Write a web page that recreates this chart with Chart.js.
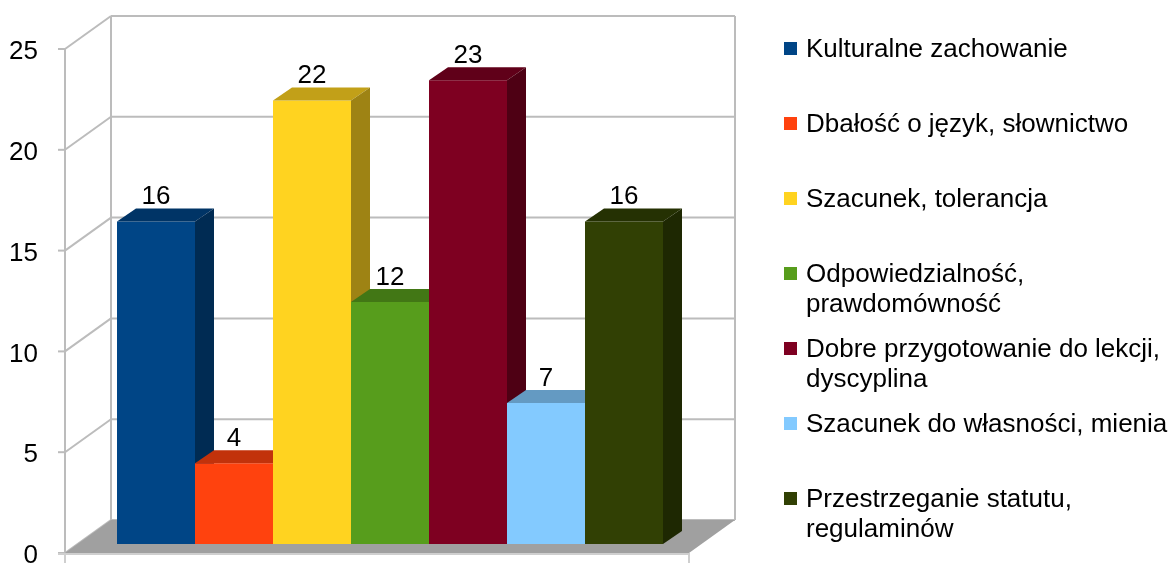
<!DOCTYPE html>
<html>
<head>
<meta charset="utf-8">
<script src="https://cdn.jsdelivr.net/npm/chart.js@4"></script>
<style>
  html, body { margin: 0; padding: 0; background: #fff; }
  #wrap { position: relative; width: 1175px; height: 563px; overflow: hidden; }
  #c { position: absolute; left: 0; top: 0; }
  .lg-item { position: absolute; left: 784px; width: 391px; font-family: 'Liberation Sans', Arial, sans-serif; font-size: 26px; line-height: 30px; color: #000; }
  .lg-box { position: absolute; left: 0; width: 13px; height: 13px; }
  .lg-text { position: absolute; left: 22px; top: 0; width: 369px; white-space: normal; }
</style>
</head>
<body>
<div id="wrap">
  <canvas id="c" width="1175" height="563"></canvas>
  <div id="legend"></div>
</div>
<script>
// ---- data ----
const categories = [
  'Kulturalne zachowanie',
  'Dbałość o język, słownictwo',
  'Szacunek, tolerancja',
  'Odpowiedzialność, prawdomówność',
  'Dobre przygotowanie do lekcji, dyscyplina',
  'Szacunek do własności, mienia',
  'Przestrzeganie statutu, regulaminów'
];
const values = [16, 4, 22, 12, 23, 7, 16];
const colors = ['#004586', '#ff420e', '#ffd320', '#579d1c', '#7e0021', '#83caff', '#314004'];
const yTicks = [0, 5, 10, 15, 20, 25];

// ---- layout (3D projection offsets, in px) ----
const BACK = { dx: 33, dy: -24 };
const FRONT = { dx: -13, dy: 9 };
const BAR = { dx: 19, dy: -13 };
const GRID = '#bcbcbc';
const FONT = "'Liberation Sans', Arial, sans-serif";

function shade(hex, f) {
  const n = parseInt(hex.slice(1), 16);
  const r = Math.round(((n >> 16) & 255) * f), g = Math.round(((n >> 8) & 255) * f), b = Math.round((n & 255) * f);
  return 'rgb(' + r + ',' + g + ',' + b + ')';
}
function poly(ctx, pts, fill) {
  ctx.beginPath();
  ctx.moveTo(pts[0][0], pts[0][1]);
  for (let i = 1; i < pts.length; i++) ctx.lineTo(pts[i][0], pts[i][1]);
  ctx.closePath();
  ctx.fillStyle = fill;
  ctx.fill();
}
function line(ctx, x1, y1, x2, y2) {
  ctx.beginPath(); ctx.moveTo(x1, y1); ctx.lineTo(x2, y2); ctx.stroke();
}

const threeD = {
  id: 'threeD',
  beforeDatasetsDraw(chart) {
    const ctx = chart.ctx, y = chart.scales.y, a = chart.chartArea;
    // walls extend half a category beyond the outer bars
    const half = (a.right - a.left) / categories.length / 2;
    const L = a.left - half, R = a.right + half;
    const vMin = yTicks[0], vMax = yTicks[yTicks.length - 1];
    const y0 = y.getPixelForValue(vMin), yTop = y.getPixelForValue(vMax);
    ctx.save();
    ctx.strokeStyle = GRID;
    ctx.lineWidth = 2;
    yTicks.forEach(v => {
      const py = y.getPixelForValue(v);
      line(ctx, L + BACK.dx, py + BACK.dy, R + BACK.dx, py + BACK.dy);
      line(ctx, L + FRONT.dx, py + FRONT.dy, L + BACK.dx, py + BACK.dy);
      line(ctx, L + FRONT.dx - 7, py + FRONT.dy, L + FRONT.dx, py + FRONT.dy);
    });
    line(ctx, L + BACK.dx, yTop + BACK.dy, L + BACK.dx, y0 + BACK.dy);
    line(ctx, R + BACK.dx, yTop + BACK.dy, R + BACK.dx, y0 + BACK.dy);
    line(ctx, L + FRONT.dx, yTop + FRONT.dy, L + FRONT.dx, chart.height);
    poly(ctx, [
      [L + FRONT.dx, y0 + FRONT.dy], [R + FRONT.dx, y0 + FRONT.dy],
      [R + BACK.dx, y0 + BACK.dy], [L + BACK.dx, y0 + BACK.dy]
    ], '#a0a0a0');
    ctx.strokeStyle = '#cfcfcf';
    line(ctx, L + FRONT.dx - 7, y0 + FRONT.dy + 1, R + FRONT.dx, y0 + FRONT.dy + 1);
    line(ctx, L + FRONT.dx, y0 + FRONT.dy, L + FRONT.dx, chart.height);
    line(ctx, R + FRONT.dx, y0 + FRONT.dy, R + FRONT.dx, chart.height);
    ctx.restore();
  },
  beforeDatasetDraw() { return false; },
  afterDatasetsDraw(chart) {
    const ctx = chart.ctx;
    const meta = chart.getDatasetMeta(0);
    ctx.save();
    meta.data.forEach((el, i) => {
      const p = el.getProps(['x', 'y', 'base', 'width'], true);
      const x1 = p.x - p.width / 2, x2 = p.x + p.width / 2, yt = p.y, yb = p.base;
      const c = colors[i];
      poly(ctx, [[x1, yt], [x2, yt], [x2, yb], [x1, yb]], c);
      poly(ctx, [[x1, yt], [x2, yt], [x2 + BAR.dx, yt + BAR.dy], [x1 + BAR.dx, yt + BAR.dy]], shade(c, 0.76));
      poly(ctx, [[x2, yt], [x2 + BAR.dx, yt + BAR.dy], [x2 + BAR.dx, yb + BAR.dy], [x2, yb]], shade(c, 0.62));
    });
    ctx.fillStyle = '#000';
    ctx.font = '26px ' + FONT;
    ctx.textAlign = 'center';
    ctx.textBaseline = 'alphabetic';
    meta.data.forEach((el, i) => {
      const p = el.getProps(['x', 'y'], true);
      ctx.fillText(String(values[i]), p.x, p.y + BAR.dy - 4);
    });
    ctx.restore();
  }
};

new Chart(document.getElementById('c'), {
  type: 'bar',
  data: {
    labels: categories,
    datasets: [{ label: 'Wartości', data: values, backgroundColor: colors, barPercentage: 1, categoryPercentage: 1 }]
  },
  options: {
    responsive: false,
    animation: false,
    devicePixelRatio: 1,
    layout: { padding: { left: 0, right: 512, top: 40, bottom: 19 } },
    plugins: { legend: { display: false }, tooltip: { enabled: false } },
    scales: {
      x: { display: false, offset: true },
      y: {
        min: yTicks[0], max: yTicks[yTicks.length - 1],
        afterFit(s) { s.width = 117; s.paddingTop = 0; s.paddingBottom = 0; },
        afterBuildTicks(s) { s.ticks = yTicks.map(v => ({ value: v })); },
        grid: { display: false, drawTicks: false },
        border: { display: false },
        ticks: { padding: 79, labelOffset: 12, color: '#000', font: { family: FONT, size: 26 } }
      }
    }
  },
  plugins: [threeD]
});

// HTML legend
const lg = document.getElementById('legend');
categories.forEach((name, i) => {
  const item = document.createElement('div');
  item.className = 'lg-item';
  item.style.top = (33 + 75 * i) + 'px';
  const box = document.createElement('div');
  box.className = 'lg-box';
  box.style.top = '8.5px';
  box.style.background = colors[i];
  const t = document.createElement('div');
  t.className = 'lg-text';
  t.textContent = name;
  item.appendChild(box); item.appendChild(t);
  lg.appendChild(item);
});
</script>
</body>
</html>
